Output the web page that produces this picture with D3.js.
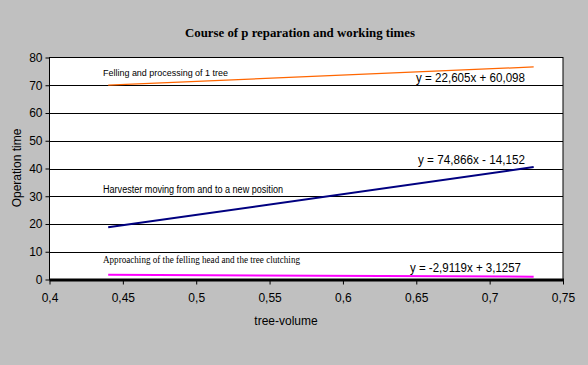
<!DOCTYPE html>
<html><head><meta charset="utf-8">
<script src="https://cdn.jsdelivr.net/npm/d3@7"></script>
<style>body{margin:0;background:#c0c0c0}svg{display:block}</style>
</head><body>
<svg id="c" width="588" height="365"></svg>
<script>
const xTicks = [0.4,0.45,0.5,0.55,0.6,0.65,0.7,0.75];
const yTicks = [0,10,20,30,40,50,60,70,80];
const xVals = [0.44, 0.73];
const felling = [70.05, 76.6];
const harvester = [18.8, 40.5];
const approaching = [1.7, 1.0];
const seriesNames = ["Felling and processing of 1 tree","Harvester moving from and to a new position","Approaching of the felling head and the tree clutching"];
const equations = ["y = 22,605x + 60,098","y = 74,866x - 14,152","y = -2,9119x + 3,1257"];

const svg = d3.select("#c");
const L=49.5,R=563,T=57.5,B=279.5;
const x = d3.scaleLinear().domain([0.4,0.75]).range([L,R]);
const y = d3.scaleLinear().domain([0,80]).range([B,T]);
const fmt = d => String(d).replace(".",",");

svg.append("rect").attr("x",L).attr("y",T).attr("width",R-L).attr("height",B-T).attr("fill","#fff").attr("stroke","#000");
svg.append("g").selectAll("line").data(yTicks.filter(d=>d>0&&d<80)).join("line")
  .attr("x1",L).attr("x2",R).attr("y1",d=>Math.round(y(d))+0.5).attr("y2",d=>Math.round(y(d))+0.5).attr("stroke","#000");

const yAx = svg.append("g").attr("transform",`translate(${L},0)`).call(d3.axisLeft(y).tickValues(yTicks).tickSize(4).tickPadding(3).tickFormat(d=>d));
yAx.select(".domain").remove();
yAx.selectAll("text").attr("font-family","Liberation Sans, Arial").attr("font-size",12).attr("fill","#000");
const xAx = svg.append("g").attr("transform",`translate(0,${B})`).call(d3.axisBottom(x).tickValues(xTicks).tickSize(5).tickPadding(9).tickFormat(fmt));
xAx.select(".domain").remove();
xAx.selectAll("text").attr("font-family","Liberation Sans, Arial").attr("font-size",12).attr("fill","#000");
svg.append("line").attr("x1",L).attr("x2",R+1).attr("y1",B+0.5).attr("y2",B+0.5).attr("stroke","#000").attr("stroke-width",3);

const line = d3.line().x((d,i)=>x(xVals[i])).y(d=>y(d));
[[felling,"#ff6600",1.3],[harvester,"#000080",2],[approaching,"#ff00ff",2]].forEach(([s,c,w])=>{
  svg.append("path").datum(s).attr("d",line).attr("fill","none").attr("stroke",c).attr("stroke-width",w);
});

svg.append("text").attr("x",103).attr("y",76).attr("font-family","Liberation Sans, Arial").attr("font-size",9.5).attr("textLength",125).attr("lengthAdjust","spacingAndGlyphs").text(seriesNames[0]);
svg.append("text").attr("x",103).attr("y",193).attr("font-family","Liberation Sans, Arial").attr("font-size",10).attr("textLength",180).attr("lengthAdjust","spacingAndGlyphs").text(seriesNames[1]);
svg.append("text").attr("x",103).attr("y",263).attr("font-family","Liberation Serif, Times New Roman").attr("font-size",10).attr("textLength",197).attr("lengthAdjust","spacingAndGlyphs").text(seriesNames[2]);

const eq = svg.append("g").attr("font-family","Liberation Sans, Arial").attr("font-size",12);
eq.append("text").attr("x",416).attr("y",82).attr("textLength",109).attr("lengthAdjust","spacingAndGlyphs").text(equations[0]);
eq.append("text").attr("x",418).attr("y",164).attr("textLength",107).attr("lengthAdjust","spacingAndGlyphs").text(equations[1]);
eq.append("text").attr("x",410).attr("y",272).attr("textLength",111).attr("lengthAdjust","spacingAndGlyphs").text(equations[2]);

svg.append("text").attr("x",300).attr("y",37).attr("text-anchor","middle").attr("font-family","Liberation Serif, Times New Roman").attr("font-weight","bold").attr("font-size",12).attr("textLength",230).attr("lengthAdjust","spacingAndGlyphs").text("Course of p reparation and working times");
svg.append("text").attr("x",286).attr("y",325).attr("text-anchor","middle").attr("font-family","Liberation Sans, Arial").attr("font-size",12).text("tree-volume");
svg.append("text").attr("transform","translate(21,168) rotate(-90)").attr("text-anchor","middle").attr("font-family","Liberation Sans, Arial").attr("font-size",12).text("Operation time");
</script>
</body></html>
